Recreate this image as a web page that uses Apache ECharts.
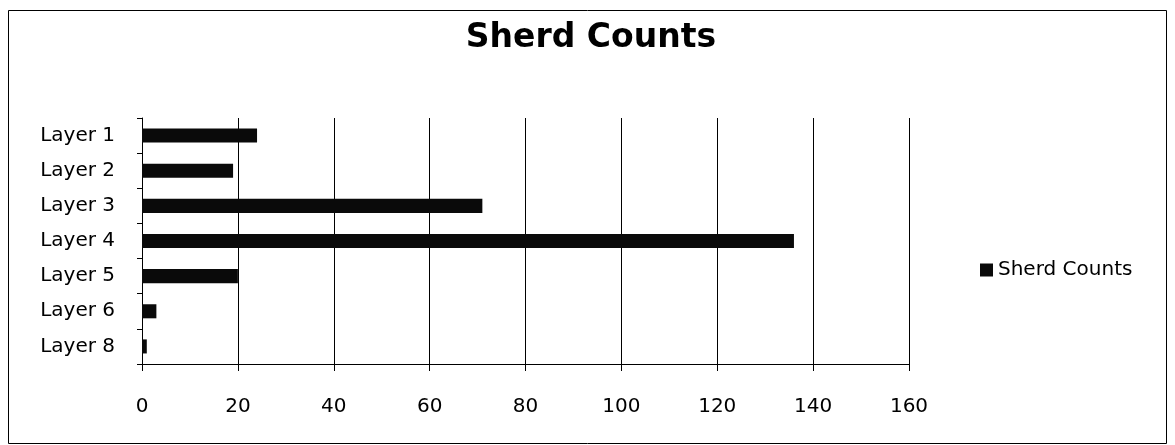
<!DOCTYPE html>
<html>
<head>
<meta charset="utf-8">
<script src="https://cdn.jsdelivr.net/npm/echarts@6/dist/echarts.min.js"></script>
<style>
html,body{margin:0;padding:0;background:#fff;}
#chart{width:1175px;height:445px;}
</style>
</head>
<body>
<div id="chart"></div>
<script>
const categories = ["Layer 1", "Layer 2", "Layer 3", "Layer 4", "Layer 5", "Layer 6", "Layer 8"];
const sherdCounts = [24, 19, 71, 136, 20, 3, 1];
const seriesName = "Sherd Counts";
const titleText = "Sherd Counts";

const font = "'DejaVu Sans', sans-serif";
const chart = echarts.init(document.getElementById('chart'));
chart.setOption({
  animation: false,
  backgroundColor: '#fff',
  title: {
    text: titleText,
    left: 586, top: 17, textAlign: 'center',
    textStyle: { fontFamily: font, fontSize: 33, fontWeight: 'bold', color: '#000' }
  },
  legend: {
    data: [seriesName],
    left: 975, top: 255,
    icon: 'rect', itemWidth: 13, itemHeight: 13, itemGap: 8,
    textStyle: { fontFamily: font, fontSize: 20, color: '#000' }
  },
  grid: { left: 142, right: 266, top: 118, bottom: 81, containLabel: false },
  xAxis: {
    type: 'value', min: 0, max: 160, interval: 20,
    axisLine: { show: true, lineStyle: { color: '#000', width: 1 } },
    axisTick: { show: true, length: 7, lineStyle: { color: '#000' } },
    axisLabel: { margin: 33, fontFamily: font, fontSize: 20, color: '#000' },
    splitLine: { show: true, lineStyle: { color: '#000', width: 1 } }
  },
  yAxis: {
    type: 'category', data: categories, inverse: true,
    axisLine: { show: true, lineStyle: { color: '#000', width: 1 } },
    axisTick: { show: true, length: 5, lineStyle: { color: '#000' } },
    axisLabel: { margin: 27, fontFamily: font, fontSize: 20, color: '#000' }
  },
  series: [{
    name: seriesName, type: 'bar', data: sherdCounts,
    barCategoryGap: '60%',
    itemStyle: { color: '#0a0a0a' }
  }],
  graphic: [{
    type: 'rect', shape: { x: 8.5, y: 10.5, width: 1158, height: 433 },
    style: { fill: 'none', stroke: '#000', lineWidth: 1 }, silent: true
  }]
});
</script>
</body>
</html>
